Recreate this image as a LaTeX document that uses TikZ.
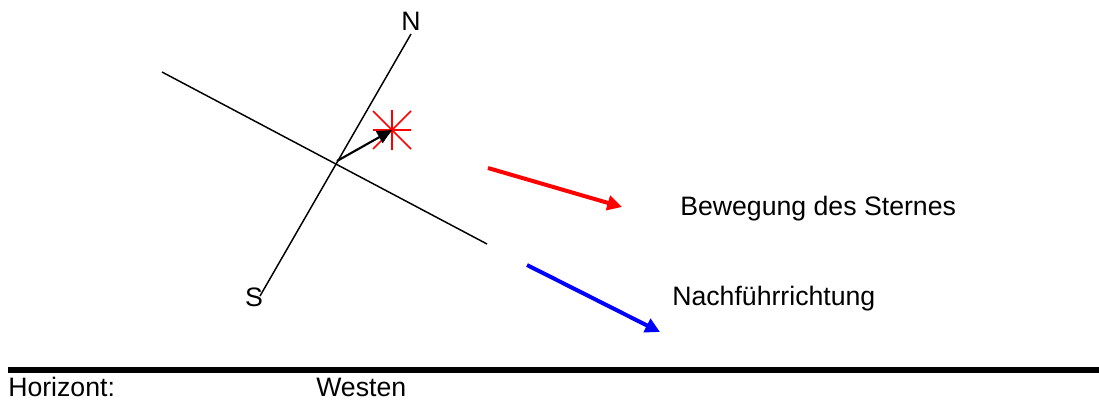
\documentclass[tikz,border=0pt]{standalone}
\usepackage{fontspec}
\setmainfont{Liberation Sans}
\usetikzlibrary{arrows.meta,calc}
\begin{document}
\begin{tikzpicture}[x=0.75pt,y=-0.75pt,
  thin line/.style={line width=1.1pt,black},
  lbl/.style={font=\fontsize{20}{24}\selectfont,inner sep=0pt},
  bigarrow/.style={line width=3pt,-{Triangle[length=11pt,width=11pt]}}]
\useasboundingbox (0,0) rectangle (1099,400);
% coordinates
\coordinate (nend) at (411,34);
\coordinate (send) at (260,296);
\coordinate (wend) at (162,72);
\coordinate (eend) at (487,244);
\coordinate (ctr) at (337,161);
\coordinate (star) at (392,130);
% axis lines
\draw[thin line] (send) -- (nend);
\draw[thin line] (wend) -- (eend);
% star
\draw[red,line width=1.3pt] ($(star)+(-19,0)$) -- ($(star)+(19,0)$)
  ($(star)+(0,-20)$) -- ($(star)+(0,20)$)
  ($(star)+(-19,-19)$) -- ($(star)+(19,19)$)
  ($(star)+(-19,19)$) -- ($(star)+(19,-19)$);
% black arrow
\draw[line width=1.6pt,-{Triangle[length=11pt,width=10pt]}] (ctr) -- (star);
% labels
\node[lbl] (N) at (411,21) {N};
\node[lbl] (S) at (254,297) {S};
% motion arrows
\coordinate (r1) at (488,168);
\coordinate (r2) at (622,207);
\draw[bigarrow,red] (r1) -- (r2);
\coordinate (b1) at (527,265);
\coordinate (b2) at (660,332);
\draw[bigarrow,blue] (b1) -- (b2);
\node[lbl,anchor=west] (bew) at (680,209) {Bewegung des Sternes};
\node[lbl,anchor=west] (nach) at (672,299) {Nachführrichtung};
% horizon
\coordinate (h1) at (8,370);
\coordinate (h2) at (1099,370);
\draw[line width=4.5pt] (h1) -- (h2);
\node[lbl,anchor=west] (hor) at (8,387) {Horizont:};
\node[lbl,anchor=west] (west) at (316,387) {Westen};
\end{tikzpicture}
\end{document}
